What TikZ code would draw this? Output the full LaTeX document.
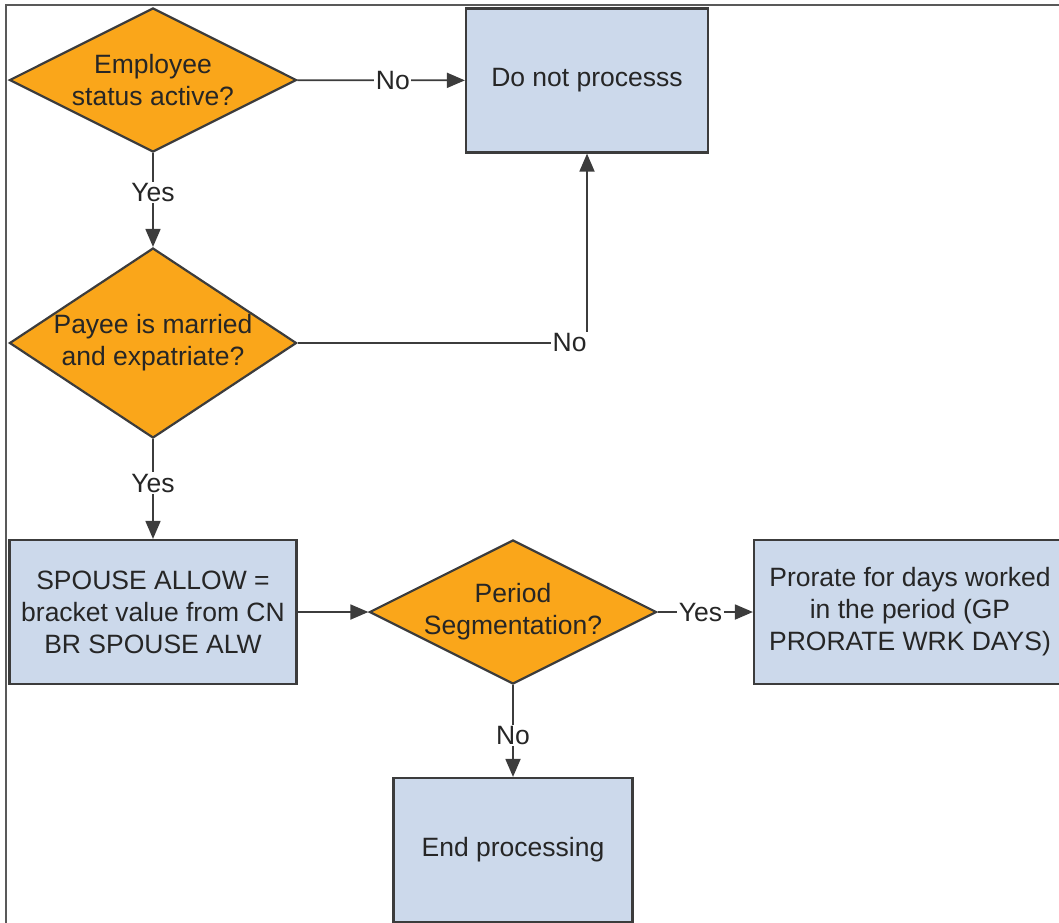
\documentclass[tikz,border=0pt]{standalone}
\usepackage{fontspec}
\setmainfont{Liberation Sans}
\usetikzlibrary{shapes.geometric,arrows.meta}
\definecolor{decorange}{HTML}{FAA61A}
\definecolor{boxblue}{HTML}{CCD9EB}
\definecolor{edgegray}{HTML}{3C3C3C}
\begin{document}
\begin{tikzpicture}[x=1pt,y=-1pt,font=\fontsize{26.5}{32}\selectfont,
    decision/.style={diamond,draw=edgegray,line width=2.2pt,fill=decorange,minimum width=287pt,minimum height=144pt,inner sep=0pt},
    process/.style={rectangle,draw=edgegray,line width=2.2pt,fill=boxblue,minimum height=144pt,align=center,text=black!85},
    flow/.style={-{Triangle[length=18pt,width=15pt]},line width=1.8pt,draw=edgegray},
    answer/.style={fill=white,inner sep=1.5pt,text=black!85}]
    \useasboundingbox (0,0) rectangle (1059,922);
        \draw[gray!70!black,line width=1.2pt] (1075,5) -- (6,5) -- (6,940);
    \node[decision,label={[align=center,text=black!85]center:Employee\\status active?}] (active) at (153,80) {};
    \node[process,minimum width=242pt] (skip) at (587,80.5) {Do not processs};
    \node[decision,minimum height=190pt,label={[align=center,text=black!85]center:Payee is married\\and expatriate?}] (married) at (153,343) {};
    \node[process,minimum width=287pt] (allow) at (153,612) {SPOUSE ALLOW =\\bracket value from CN\\BR SPOUSE ALW};
    \node[decision,label={[align=center,text=black!85]center:Period\\Segmentation?}] (segment) at (513,612) {};
    \node[process,minimum width=312pt] (prorate) at (910,612) {Prorate for days worked\\in the period (GP\\PRORATE WRK DAYS)};
    \node[process,minimum width=239pt] (finish) at (513,850) {End processing};
        \draw[flow] (active) -- node[answer,pos=0.57] (noactive) {No} (skip);
        \draw[flow] (active) -- node[answer,pos=0.42] (yesactive) {Yes} (married);
        \draw[flow] (married.east) -| node[answer,pos=0.47] (nomarried) {No} (skip.south);
        \draw[flow] (married) -- node[answer,pos=0.44] (yesmarried) {Yes} (allow);
        \draw[flow] (allow) -- (segment);
        \draw[flow] (segment) -- node[answer,pos=0.45] (yessegment) {Yes} (prorate);
        \draw[flow] (segment) -- node[answer,pos=0.55] (nosegment) {No} (finish);
\end{tikzpicture}
\end{document}
